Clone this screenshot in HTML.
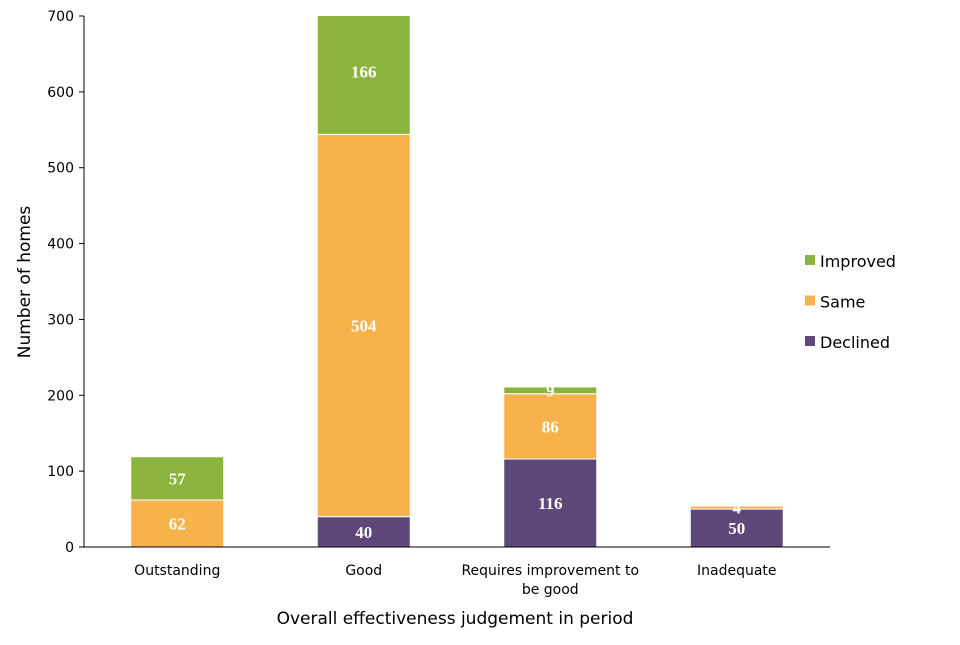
<!DOCTYPE html>
<html><head><meta charset="utf-8"><style>
html,body{margin:0;padding:0;background:#fff;}
svg text{font-family:"DejaVu Sans","Liberation Sans",sans-serif;}
</style></head><body>
<svg id="chart" width="960" height="640" xmlns="http://www.w3.org/2000/svg"></svg>
<script>
const categories = ["Outstanding","Good","Requires improvement to be good","Inadequate"];
const declined = [0,40,116,50];
const same = [62,504,86,4];
const improved = [57,166,9,0];
const yTicks = [0,100,200,300,400,500,600,700];
const seriesNames = ["Improved","Same","Declined"];

const svg = document.getElementById('chart');
const NS = 'http://www.w3.org/2000/svg';
const x0 = 84, x1 = 830, yBase = 547, yTop = 16, yMax = 700;
const y = v => yBase - (v / yMax) * (yBase - yTop);
const band = (x1 - x0) / categories.length;
const xc = i => x0 + band * (i + 0.5);
const barW = 93;
const colors = {Improved:"#8bb33d", Same:"#f8b24b", Declined:"#5e4879"};
function mk(tag, attrs, parent){const e=document.createElementNS(NS,tag);for(const k in attrs)e.setAttribute(k,attrs[k]);(parent||svg).appendChild(e);return e;}

const clip = mk('clipPath',{id:'pc'}); mk('rect',{x:x0,y:yTop,width:x1-x0,height:yBase-yTop},clip);

yTicks.forEach(t=>{
  const tk = mk('line',{x1:x0-5,x2:x0,y1:y(t),y2:y(t),stroke:'#000','stroke-width':1});
  
  
  const tx = mk('text',{x:x0-10,y:y(t)+5,'text-anchor':'end','font-size':14,fill:'#000'});
  tx.textContent=t;
  
  
});

const g = mk('g',{'clip-path':'url(#pc)'});
categories.forEach((c,i)=>{
  const segs=[["Declined",declined[i]],["Same",same[i]],["Improved",improved[i]]];
  let acc=0;
  segs.forEach(([n,v])=>{
    if(v<=0) return;
    const r = mk('rect',{x:xc(i)-barW/2,y:y(acc+v),width:barW,height:y(acc)-y(acc+v),fill:colors[n],stroke:'#fff','stroke-width':1},g);
    
    
    const mid = Math.min(yMax, acc+v/2);
    const lt = mk('text',{x:xc(i),y:y(mid)+6,'text-anchor':'middle','font-size':17,'font-weight':'bold',fill:'#fff',style:'font-family:"Liberation Serif",serif'});
    lt.textContent=v;
    
    
    acc+=v;
  });
});

const ax = mk('line',{x1:x0,x2:x0,y1:yTop,y2:yBase,stroke:'#000','stroke-width':1});
 
const bx = mk('line',{x1:x0,x2:x1,y1:yBase,y2:yBase,stroke:'#000','stroke-width':1});
 

categories.forEach((c,i)=>{
  const t = mk('text',{x:xc(i),y:575,'text-anchor':'middle','font-size':14,fill:'#000'});
  
  
  if(c==="Requires improvement to be good"){
    const a=mk('tspan',{x:xc(i),y:575},t); a.textContent="Requires improvement to";
    const b=mk('tspan',{x:xc(i),y:594},t); b.textContent="be good";
  } else t.textContent=c;
});

const xt = mk('text',{x:455,y:624,'text-anchor':'middle','font-size':17,fill:'#000'});
xt.textContent="Overall effectiveness judgement in period";
 
const yt = mk('text',{x:0,y:0,'text-anchor':'middle','font-size':17,fill:'#000',transform:'translate(30,282) rotate(-90)'});
yt.textContent="Number of homes";
 

seriesNames.forEach((n,k)=>{
  const ly = 261 + k*40.5;
  const sq = mk('rect',{x:805,y:ly-6,width:10,height:10,fill:colors[n]});
  
  
  const lt = mk('text',{x:820,y:ly+6,'font-size':16,fill:'#000'});
  lt.textContent=n;
  
  
});
</script>
</body></html>
